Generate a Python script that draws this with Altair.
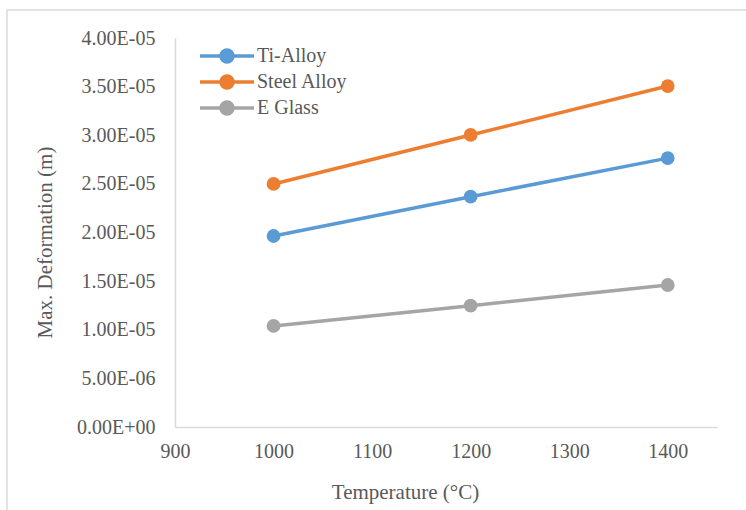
import altair as alt
import pandas as pd

temps = [1000, 1200, 1400]
series_names = ["Ti-Alloy", "Steel Alloy", "E Glass"]
ti_alloy = [1.964e-05, 2.368e-05, 2.765e-05]
steel_alloy = [2.499e-05, 3.003e-05, 3.506e-05]
e_glass = [1.039e-05, 1.247e-05, 1.460e-05]
colors = ["#5B9BD5", "#ED7D31", "#A5A5A5"]
x_ticks = [900, 1000, 1100, 1200, 1300, 1400]
y_ticks = [0, 5e-06, 1e-05, 1.5e-05, 2e-05, 2.5e-05, 3e-05, 3.5e-05, 4e-05]

rows = []
for name, vals in zip(series_names, [ti_alloy, steel_alloy, e_glass]):
    for t, v in zip(temps, vals):
        rows.append({"Temperature": t, "Deformation": v, "Series": name})
df = pd.DataFrame(rows)

FONT = "Liberation Serif"
TXT = "#595959"

legend_path = ("M-2.7,0L2.7,0"
               "M-0.6,0A0.6,0.6,0,1,1,0.6,0A0.6,0.6,0,1,1,-0.6,0"
               "M-0.3,0A0.3,0.3,0,1,1,0.3,0A0.3,0.3,0,1,1,-0.3,0"
               "M-0.08,0A0.08,0.08,0,1,1,0.08,0A0.08,0.08,0,1,1,-0.08,0")

color = alt.Color(
    "Series:N",
    scale=alt.Scale(domain=series_names, range=colors),
    sort=series_names,
    legend=alt.Legend(
        title=None, orient="none", legendX=40, legendY=6,
        symbolType=legend_path, symbolSize=400, symbolStrokeWidth=3.5,
        labelFont=FONT, labelFontSize=20, labelColor=TXT, labelOffset=18,
        rowPadding=0, padding=0,
    ),
)

x = alt.X(
    "Temperature:Q",
    scale=alt.Scale(domain=[900, 1450], nice=False),
    axis=alt.Axis(
        values=x_ticks, format="d", title="Temperature (°C)",
        ticks=False, grid=False, labelPadding=14, labelFlush=False,
        labelFont=FONT, labelFontSize=20, labelColor=TXT,
        titleX=230, titleY=65, titleBaseline="middle", titleAlign="center",
    ),
)
y = alt.Y(
    "Deformation:Q",
    scale=alt.Scale(domain=[0, 4e-05], nice=False),
    axis=alt.Axis(
        values=y_ticks, title="Max. Deformation (m)",
        labelExpr="replace(replace(upper(format(datum.value,'.2e')),'E-','E-0'),'E+','E+0')",
        ticks=False, grid=False, labelPadding=20, labelFlush=False,
        labelFont=FONT, labelFontSize=20, labelColor=TXT,
        titleX=-130, titleY=204, titleBaseline="middle", titleAlign="center",
    ),
)

base = alt.Chart(df)
lines = base.mark_line(strokeWidth=3.5).encode(x=x, y=y, color=color)
points = base.mark_point(filled=True, size=190, opacity=1).encode(x=x, y=y, color=color)

frame_df = pd.DataFrame({"k": [0]})
frame_left = alt.Chart(frame_df).mark_rule(color="#D9D9D9", strokeWidth=1.5).encode(
    x=alt.value(-168), y=alt.value(-28), y2=alt.value(520))
frame_top = alt.Chart(frame_df).mark_rule(color="#D9D9D9", strokeWidth=1.5).encode(
    x=alt.value(-168), x2=alt.value(620), y=alt.value(-28))

chart = alt.layer(frame_left, frame_top, lines, points).properties(
    width=542, height=389,
    padding={"left": 175, "top": 38, "right": 29, "bottom": 83},
    autosize=alt.AutoSizeParams(type="none"),
    background="white",
).configure(font=FONT).configure_view(stroke=None).configure_axis(
    domainColor="#D9D9D9", domainWidth=1.5,
    labelFont=FONT, labelFontSize=20, labelColor=TXT,
    titleFont=FONT, titleFontSize=21, titleColor=TXT, titleFontWeight="normal",
).configure_legend(labelFont=FONT)

chart.save("out.html", embed_options={"renderer": "svg", "actions": False})
